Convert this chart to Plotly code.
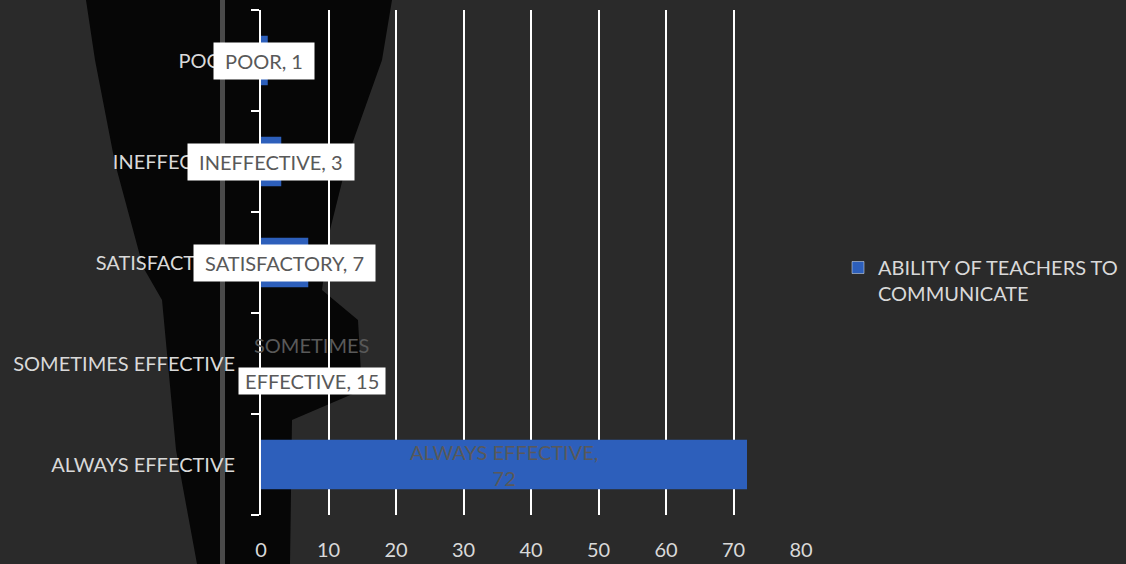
import plotly.graph_objects as go

# ---- data ----
categories = ["ALWAYS EFFECTIVE", "SOMETIMES EFFECTIVE", "SATISFACTORY", "INEFFECTIVE", "POOR"]
values = [72, 15, 7, 3, 1]
series_name = "ABILITY OF TEACHERS TO<br>COMMUNICATE"
x_ticks = [0, 10, 20, 30, 40, 50, 60, 70, 80]

# ---- layout geometry (pixels) ----
W, H = 1126, 564
L, R, T, B = 261, 801, 10, 515
PW, PH = R - L, B - T


def px(x):
    return (x - L) / PW


def py(y):
    return (B - y) / PH


BAR = "#2d5fbb"
LABEL = "#595959"
TXT = "#d9d9d9"
FONT = "Lato"
FS = 20
NB = "\u00a0"

bar_colors = [BAR, "rgba(0,0,0,0)", BAR, BAR, BAR]

fig = go.Figure()
fig.add_trace(go.Bar(
    x=values, y=categories, orientation="h", name=series_name,
    marker=dict(color=bar_colors, line=dict(width=0)), width=0.49,
    showlegend=False,
))
# legend entry
fig.add_trace(go.Bar(x=[None], y=[None], orientation="h", name=series_name,
                     marker=dict(color=BAR), showlegend=True))

# background decoration (photo-like dark funnel)
funnel = [(86, 0), (392, 0), (382, 60), (350, 150), (330, 230), (322, 290), (358, 320),
          (362, 390), (292, 420), (290, 564), (197, 564), (176, 450),
          (162, 300), (143, 267), (115, 163), (95, 60)]
path = "M " + " L ".join(f"{px(a):.4f},{py(b):.4f}" for a, b in funnel) + " Z"
shapes = [
    dict(type="path", xref="paper", yref="paper", path=path,
         fillcolor="#060606", line=dict(width=0), layer="below"),
    dict(type="rect", xref="paper", yref="paper", x0=px(220), x1=px(225),
         y0=py(564), y1=py(0), fillcolor="#4a4a4a", line=dict(width=0), layer="below"),
]

annotations = []
for c, v in zip(categories, values):
    if c == "ALWAYS EFFECTIVE":
        annotations.append(dict(x=v / 2, y=c, text=f"ALWAYS EFFECTIVE,<br>{v}",
                                showarrow=False, font=dict(color=LABEL, size=FS, family=FONT)))
    elif c == "SOMETIMES EFFECTIVE":
        first, second = c.split(" ")
        annotations.append(dict(x=v / 2, y=c, text=first, yshift=19, showarrow=False,
                                font=dict(color=LABEL, size=FS, family=FONT)))
        annotations.append(dict(x=v / 2, y=c, text=f"{NB}{second}, {v}{NB}", yshift=-17,
                                showarrow=False, bgcolor="white", borderpad=1,
                                font=dict(color=LABEL, size=FS, family=FONT)))
    else:
        annotations.append(dict(x=v / 2, y=c, text=f"{NB}{c}, {v}{NB}", showarrow=False,
                                bgcolor="white", borderpad=6,
                                font=dict(color=LABEL, size=FS, family=FONT)))

fig.update_layout(
    width=W, height=H,
    margin=dict(l=L, r=W - R, t=T, b=H - B, pad=0, autoexpand=False),
    paper_bgcolor="#2a2a2a", plot_bgcolor="rgba(0,0,0,0)",
    font=dict(family=FONT, color=TXT, size=FS),
    shapes=shapes, annotations=annotations,
    barmode="overlay",
    legend=dict(x=px(838), y=py(248), xanchor="left", yanchor="top",
                bgcolor="rgba(0,0,0,0)", font=dict(size=FS, color=TXT, family=FONT),
                valign="top"),
    xaxis=dict(range=[0, 80], tickvals=x_ticks, showgrid=True, gridcolor="white",
               gridwidth=1.5, zeroline=False, showline=False, ticks="", automargin=False,
               tickfont=dict(size=FS, color=TXT), ticklabelstandoff=21),
    yaxis=dict(categoryorder="array", categoryarray=categories, showline=True,
               linecolor="white", linewidth=2, ticks="outside", tickson="boundaries",
               ticklen=8, tickwidth=2, tickcolor="white", showgrid=False, automargin=False,
               tickfont=dict(size=FS, color=TXT), ticklabelstandoff=20),
)

fig.write_html(
    "out.html",
    config={"displayModeBar": False},
    post_script="document.body.style.margin='0';document.body.style.background='#2a2a2a';",
)
